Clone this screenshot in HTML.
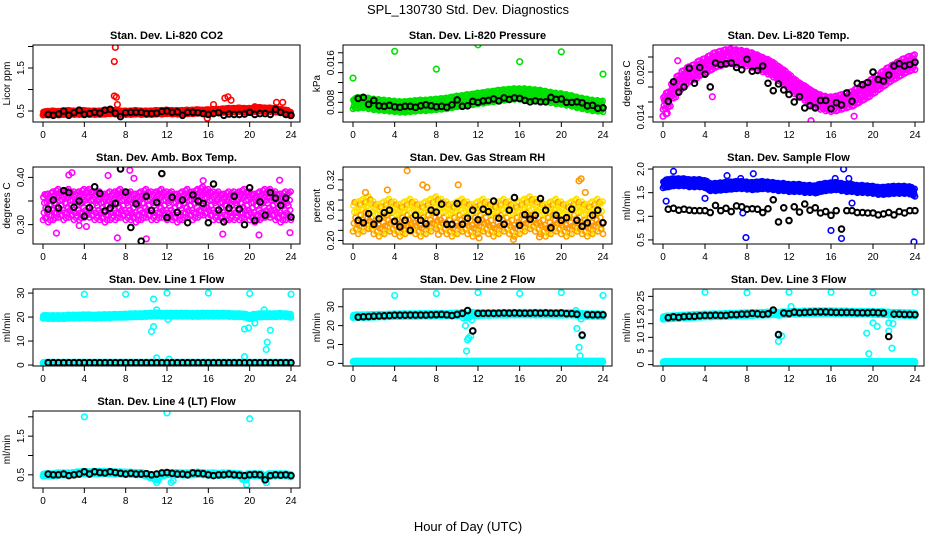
<!DOCTYPE html>
<html><head><meta charset="utf-8">
<style>
html,body{margin:0;padding:0;background:#fff;}
svg{display:block;font-family:"Liberation Sans",sans-serif;}
</style></head>
<body>
<svg id="chart" width="936" height="540" viewBox="0 0 936 540">
<text x="468" y="14" text-anchor="middle" font-size="13">SPL_130730  Std. Dev. Diagnostics</text>
<text x="468" y="531" text-anchor="middle" font-size="13">Hour of Day (UTC)</text>
</svg>
<script>
const hours=[0,0.5,1,1.5,2,2.5,3,3.5,4,4.5,5,5.5,6,6.5,7,7.5,8,8.5,9,9.5,10,10.5,11,11.5,12,12.5,13,13.5,14,14.5,15,15.5,16,16.5,17,17.5,18,18.5,19,19.5,20,20.5,21,21.5,22,22.5,23,23.5,24];
const blackHours=[0.5,1,1.5,2,2.5,3,3.5,4,4.5,5,5.5,6,6.5,7,7.5,8,8.5,9,9.5,10,10.5,11,11.5,12,12.5,13,13.5,14,14.5,15,15.5,16,16.5,17,17.5,18,18.5,19,19.5,20,20.5,21,21.5,22,22.5,23,23.5,24];
const xTicks=[0,4,8,12,16,20,24];

const co2Color=[0.45,0.45,0.46,0.45,0.46,0.47,0.46,0.46,0.47,0.46,0.46,0.46,0.47,0.48,0.47,0.46,0.46,0.46,0.47,0.46,0.46,0.46,0.47,0.47,0.48,0.47,0.47,0.47,0.48,0.48,0.49,0.48,0.49,0.50,0.50,0.51,0.52,0.52,0.53,0.52,0.52,0.53,0.54,0.53,0.53,0.52,0.50,0.48,0.43];
const co2Black=[0.42,0.40,0.43,0.50,0.40,0.46,0.52,0.42,0.44,0.47,0.45,0.52,0.54,0.45,0.37,0.46,0.47,0.47,0.47,0.44,0.44,0.45,0.49,0.50,0.47,0.48,0.40,0.47,0.47,0.46,0.44,0.42,0.44,0.46,0.40,0.43,0.42,0.42,0.43,0.47,0.42,0.44,0.44,0.42,0.54,0.47,0.42,0.40];
const co2OutX=[6.9,7.0,6.9,7.1,7.2,17.6,17.9,18.2,16.5,22.6,23.2,20.5,15.9];
const co2OutY=[1.65,1.98,0.85,0.82,0.65,0.80,0.83,0.75,0.65,0.70,0.70,0.60,0.33];

const presColor=[0.0078,0.0079,0.0080,0.0078,0.0076,0.0075,0.0074,0.0073,0.0072,0.0071,0.0071,0.0072,0.0073,0.0074,0.0074,0.0075,0.0076,0.0077,0.0078,0.0080,0.0082,0.0083,0.0085,0.0086,0.0088,0.0089,0.0091,0.0092,0.0094,0.0095,0.0096,0.0097,0.0097,0.0097,0.0096,0.0095,0.0094,0.0092,0.0090,0.0088,0.0087,0.0085,0.0083,0.0080,0.0078,0.0076,0.0074,0.0073,0.0072];
const presBlack=[0.0088,0.0090,0.0076,0.0084,0.0073,0.0072,0.0074,0.0071,0.0070,0.0072,0.0072,0.0070,0.0073,0.0075,0.0073,0.0071,0.0072,0.0070,0.0075,0.0085,0.0072,0.0073,0.0082,0.0080,0.0083,0.0084,0.0087,0.0083,0.0089,0.0086,0.0089,0.0088,0.0084,0.0081,0.0083,0.0081,0.0081,0.0090,0.0086,0.0087,0.0080,0.0080,0.0081,0.0079,0.0073,0.0074,0.0068,0.0069];
const presOutX=[0,4,8,12,16,20,24];
const presOutY=[0.0129,0.0183,0.0147,0.0196,0.0162,0.0182,0.0137];

const tempColor=[0.0160,0.0163,0.0175,0.0185,0.0192,0.0197,0.0200,0.0205,0.0208,0.0212,0.0216,0.0218,0.0220,0.0221,0.0220,0.0219,0.0218,0.0216,0.0213,0.0210,0.0207,0.0203,0.0198,0.0193,0.0187,0.0181,0.0176,0.0172,0.0167,0.0163,0.0160,0.0158,0.0157,0.0158,0.0160,0.0162,0.0164,0.0168,0.0172,0.0176,0.0181,0.0186,0.0191,0.0196,0.0200,0.0204,0.0208,0.0211,0.0213];
const tempBlack=[0.0161,0.0187,0.0173,0.0180,0.0205,0.0185,0.0206,0.0197,0.0180,0.0212,0.0210,0.0211,0.0212,0.0206,0.0203,0.0217,0.0201,0.0202,0.0208,0.0185,0.0175,0.0184,0.0176,0.0170,0.0160,0.0167,0.0152,0.0155,0.0152,0.0162,0.0162,0.0151,0.0159,0.0156,0.0172,0.0161,0.0185,0.0183,0.0186,0.0200,0.0190,0.0188,0.0196,0.0208,0.0211,0.0208,0.0210,0.0213];
const tempOutX=[0,0.3,0.4,1.4,18.2,14.1,4.7];
const tempOutY=[0.0141,0.0144,0.0145,0.0215,0.0141,0.0135,0.0167];

const boxColor=[0.34,0.335,0.34,0.345,0.34,0.345,0.34,0.34,0.345,0.345,0.34,0.34,0.335,0.34,0.34,0.345,0.34,0.34,0.335,0.34,0.345,0.34,0.34,0.345,0.34,0.34,0.335,0.34,0.345,0.34,0.345,0.35,0.345,0.34,0.34,0.335,0.34,0.34,0.34,0.345,0.34,0.335,0.34,0.345,0.345,0.34,0.335,0.34,0.34];
const boxBlack=[0.333,0.352,0.335,0.372,0.368,0.337,0.35,0.318,0.336,0.38,0.366,0.329,0.335,0.345,0.418,0.369,0.294,0.344,0.265,0.36,0.33,0.347,0.408,0.315,0.358,0.326,0.352,0.304,0.363,0.35,0.345,0.304,0.386,0.331,0.306,0.335,0.36,0.333,0.3,0.378,0.309,0.348,0.32,0.368,0.356,0.341,0.356,0.316];
const boxOutX=[2.5,2.8,8.4,8.8,1.3,7.2,10,6.3,22.9,15.5,23.9,17.4,20.9,3.5,4.2];
const boxOutY=[0.405,0.41,0.415,0.398,0.282,0.272,0.27,0.404,0.394,0.393,0.283,0.28,0.278,0.298,0.296];

const rhColor=[0.25,0.245,0.25,0.255,0.245,0.24,0.245,0.25,0.245,0.24,0.245,0.25,0.245,0.24,0.245,0.25,0.255,0.25,0.245,0.24,0.245,0.25,0.245,0.24,0.245,0.25,0.245,0.24,0.245,0.25,0.245,0.24,0.245,0.25,0.255,0.25,0.245,0.24,0.245,0.25,0.245,0.24,0.245,0.25,0.245,0.24,0.245,0.25,0.245];
const rhBlack=[0.24,0.235,0.253,0.232,0.243,0.255,0.26,0.238,0.227,0.24,0.22,0.25,0.24,0.233,0.26,0.256,0.272,0.232,0.232,0.273,0.232,0.244,0.26,0.241,0.262,0.257,0.278,0.244,0.232,0.26,0.285,0.23,0.251,0.242,0.25,0.283,0.26,0.225,0.25,0.24,0.245,0.262,0.24,0.228,0.235,0.25,0.26,0.235];
const rhOutX=[5.2,21.7,21.9,12.1,15.4,17.9,8.2,6.7,7.1,10.1,3.3,1.2,22.3];
const rhOutY=[0.338,0.318,0.322,0.205,0.202,0.207,0.212,0.31,0.305,0.31,0.3,0.295,0.295];

const flowColor=[1.68,1.7,1.72,1.72,1.72,1.7,1.7,1.7,1.68,1.62,1.62,1.63,1.64,1.65,1.66,1.66,1.65,1.64,1.65,1.66,1.65,1.64,1.62,1.62,1.6,1.6,1.6,1.58,1.58,1.57,1.6,1.62,1.63,1.64,1.62,1.6,1.6,1.58,1.58,1.57,1.56,1.54,1.54,1.55,1.56,1.56,1.56,1.55,1.5];
const flowBlack=[1.15,1.17,1.13,1.15,1.13,1.12,1.12,1.12,1.08,1.23,1.12,1.17,1.1,1.22,1.2,1.15,1.16,1.15,1.08,1.16,1.35,0.88,1.18,0.91,1.2,1.09,1.26,1.13,1.18,1.07,1.1,1.02,1.12,0.73,1.12,1.12,1.08,1.08,1.07,1.07,1.03,1.05,1.08,1.03,1.1,1.07,1.12,1.12];
const flowOutX=[1,0.3,4,7.9,7.6,7.4,8.6,16,17,17.2,17.7,18,23.9,16.4,6.1];
const flowOutY=[1.95,1.32,1.38,0.55,1.07,1.8,1.9,0.7,0.53,2.0,1.8,1.28,0.46,1.8,1.86];

const lowLine=[1,1,1,1,1,1,1,1,1,1,1,1,1,1,1,1,1,1,1,1,1,1,1,1,1,1,1,1,1,1,1,1,1,1,1,1,1,1,1,1,1,1,1,1,1,1,1,1,1];

const l1Color=[20.2,20.0,20.0,20.0,20.0,20.2,20.2,20.2,20.3,20.3,20.2,20.3,20.4,20.4,20.5,20.5,20.6,20.7,20.8,20.8,20.9,21.0,21.1,21.0,21.0,21.0,21.0,21.0,21.0,20.9,20.9,21.0,21.0,21.0,21.0,21.0,20.9,20.8,20.8,20.6,20.0,20.5,20.7,20.8,20.8,20.8,20.9,20.8,20.5];
const l1Black=[1,1,1,1,1,1,1,1,1,1,1,1,1,1,1,1,1,1,1,1,1,1,1,1,1,1,1,1,1,1,1,1,1,1,1,1,1,1,1,1,1,1,1,1,1,1,1,1];
const l1OutX=[4,8,12,16,20,24,10.7,11,10.5,10.7,11,12.2,19.5,19.5,19.9,20.5,21.4,21.6,21.7,22,12.1];
const l1OutY=[29.5,29.5,30,30,29.8,29.5,27.5,23,14,16,3,2.5,15,3.5,15.5,17.5,23,6.5,9.5,14.5,19];

const l2Color=[25.0,25.0,25.0,25.1,25.2,25.3,25.3,25.4,25.5,25.5,25.6,25.6,25.6,25.7,25.7,25.7,25.8,25.8,25.8,25.9,26.0,26.2,25.0,26.3,26.0,26.1,26.1,26.2,26.2,26.2,26.3,26.3,26.3,26.3,26.3,26.3,26.3,26.3,26.2,26.2,26.2,26.2,26.2,26.0,25.8,25.6,25.6,25.6,25.5];
const l2Black=[24.5,24.7,24.8,25,25.1,25.2,25.3,25.5,25.5,25.5,25.6,25.6,25.6,25.6,25.7,25.8,25.9,25.7,25.3,25.9,26.5,28.0,17.2,26.5,26.5,26.6,26.5,26.6,26.7,26.6,26.7,26.6,26.6,26.6,26.7,26.6,26.7,26.6,26.6,26.7,26.3,26.3,26.0,15.0,25.8,25.7,25.7,25.7];
const l2OutX=[4,8,12,16,20,24,10.8,11,11.1,11.3,10.9,11.4,21.5,21.7,21.8,22,21.9,21.4,10.6];
const l2OutY=[36,37,37.5,37,37.5,36,20,12.5,13.5,14.5,6.5,23,18.5,8.5,4,14.5,23.5,28,24];

const l3Color=[17.2,17.3,17.4,17.5,17.6,17.7,17.8,17.9,18.0,18.0,18.1,18.1,18.2,18.3,18.3,18.4,18.5,18.5,18.6,18.6,18.7,18.8,18.6,18.8,18.9,19.0,19.0,19.1,19.1,19.2,19.2,19.2,19.2,19.1,19.1,19.1,19.0,19.0,19.0,19.0,18.9,18.9,18.8,18.7,18.6,18.6,18.5,18.5,18.4];
const l3Black=[17.2,17.5,17.3,17.6,17.7,17.7,17.9,18.0,18.0,18.1,18.0,18.0,18.3,18.3,18.5,18.5,18.8,18.6,18.4,18.6,20.0,11.0,18.9,18.7,19.2,19.0,19.1,19.2,19.3,19.3,19.3,19.2,19.1,19.1,19.1,19.1,19.0,19.0,19.0,19.1,19.0,18.9,10.3,18.5,18.5,18.4,18.4,18.3];
const l3OutX=[4,8,12,16,20,24,11,11.3,12.2,19.4,19.6,20,20.4,21.5,21.9,21.5,21.8,20.8];
const l3OutY=[26.5,26.3,26.5,26.5,26.3,26.5,8.5,10.5,21.3,11.5,4,15.3,14,15.3,15,12.3,6,19.5];

const l4Color=[0.5,0.5,0.5,0.52,0.52,0.52,0.53,0.55,0.56,0.55,0.56,0.56,0.56,0.56,0.55,0.55,0.54,0.54,0.53,0.53,0.5,0.45,0.4,0.5,0.53,0.53,0.53,0.52,0.52,0.53,0.54,0.53,0.52,0.52,0.51,0.52,0.52,0.51,0.5,0.4,0.5,0.5,0.5,0.45,0.5,0.5,0.5,0.5,0.48];
const l4Black=[0.52,0.5,0.5,0.52,0.48,0.5,0.52,0.58,0.52,0.58,0.56,0.55,0.58,0.56,0.54,0.52,0.54,0.52,0.52,0.53,0.5,0.52,0.55,0.56,0.54,0.52,0.52,0.5,0.55,0.54,0.53,0.5,0.48,0.5,0.5,0.52,0.5,0.49,0.48,0.5,0.51,0.5,0.37,0.48,0.5,0.49,0.5,0.48];
const l4OutX=[4,12,20,12.4,12.6,11,19.7,21.6];
const l4OutY=[2.0,2.1,1.95,0.3,0.35,0.3,0.25,0.3];

const NS="http://www.w3.org/2000/svg";
const svg=document.getElementById('chart');
const offs=[0,0.9,-0.7,0.4,-0.3,1.0,-1.0,0.6,-0.5,0.2,0.8,-0.85];

function mk(tag,attrs,parent){const e=document.createElementNS(NS,tag);for(const k in attrs)e.setAttribute(k,attrs[k]);(parent||svg).appendChild(e);return e;}

const layout=[
 {name:'co2',title:'Stan. Dev. Li-820 CO2',ylab:'Licor ppm',col:0,row:0,ymin:0.244,ymax:2.035,ticks:[0.5,1,1.5,2],labels:['0.5','','1.5',''],color:'#ff0000',spread:0.045,colorVals:co2Color,black:co2Black,outX:co2OutX,outY:co2OutY},
 {name:'pressure',title:'Stan. Dev. Li-820 Pressure',ylab:'kPa',col:1,row:0,ymin:0.00404,ymax:0.01957,ticks:[0.006,0.008,0.010,0.012,0.014,0.016,0.018],labels:['','0.008','','','','0.016',''],color:'#00e000',spread:0.0011,colorVals:presColor,black:presBlack,outX:presOutX,outY:presOutY},
 {name:'temp',title:'Stan. Dev. Li-820 Temp.',ylab:'degrees C',col:2,row:0,ymin:0.01333,ymax:0.0236,ticks:[0.014,0.016,0.018,0.020,0.022],labels:['0.014','','','0.020',''],color:'#ff00ff',spread:0.0010,colorVals:tempColor,black:tempBlack,outX:tempOutX,outY:tempOutY},
 {name:'box-temp',title:'Stan. Dev. Amb. Box Temp.',ylab:'degrees C',col:0,row:1,ymin:0.259,ymax:0.422,ticks:[0.30,0.35,0.40],labels:['0.30','','0.40'],color:'#ff00ff',spread:0.030,colorVals:boxColor,black:boxBlack,outX:boxOutX,outY:boxOutY},
 {name:'rh',title:'Stan. Dev. Gas Stream RH',ylab:'percent',col:1,row:1,ymin:0.193,ymax:0.3454,ticks:[0.20,0.22,0.24,0.26,0.28,0.30,0.32],labels:['0.20','','','0.26','','','0.32'],color:'#ff9900',color2:'#ffe000',spread:0.032,colorVals:rhColor,black:rhBlack,outX:rhOutX,outY:rhOutY},
 {name:'sample-flow',title:'Stan. Dev. Sample Flow',ylab:'ml/min',col:2,row:1,ymin:0.414,ymax:2.043,ticks:[0.5,1.0,1.5,2.0],labels:['0.5','1.0','1.5','2.0'],color:'#0000ff',spread:0.08,colorVals:flowColor,black:flowBlack,outX:flowOutX,outY:flowOutY},
 {name:'line1-flow',title:'Stan. Dev. Line 1 Flow',ylab:'ml/min',col:0,row:2,ymin:-0.4,ymax:31.7,ticks:[0,10,20,30],labels:['0','10','20','30'],color:'#00ffff',spread:0.7,colorVals:l1Color,low:lowLine,black:l1Black,outX:l1OutX,outY:l1OutY},
 {name:'line2-flow',title:'Stan. Dev. Line 2 Flow',ylab:'ml/min',col:1,row:2,ymin:-1.4,ymax:39.4,ticks:[0,10,20,30],labels:['0','10','20','30'],color:'#00ffff',spread:0.8,colorVals:l2Color,low:lowLine,black:l2Black,outX:l2OutX,outY:l2OutY},
 {name:'line3-flow',title:'Stan. Dev. Line 3 Flow',ylab:'ml/min',col:2,row:2,ymin:-0.5,ymax:27.7,ticks:[0,5,10,15,20,25],labels:['0','5','10','15','20','25'],color:'#00ffff',spread:0.6,colorVals:l3Color,low:lowLine,black:l3Black,outX:l3OutX,outY:l3OutY},
 {name:'line4-flow',title:'Stan. Dev. Line 4 (LT) Flow',ylab:'ml/min',col:0,row:3,ymin:0.16,ymax:2.15,ticks:[0.5,1.0,1.5,2.0],labels:['0.5','','1.5',''],color:'#00ffff',spread:0.035,colorVals:l4Color,black:l4Black,outX:l4OutX,outY:l4OutY}
];
const colLeft=[33,343,653];
const colWidth=[267,269,271];
const rowTop=[45,167,289,411];
const H=77;

layout.forEach(p=>{
 const L=colLeft[p.col],W=colWidth[p.col],T=rowTop[p.row],B=T+H;
 const x0=L+10,x1=L+W-9;
 const xs=h=>x0+h/24*(x1-x0);
 const ys=v=>T+(p.ymax-v)/(p.ymax-p.ymin)*H;
 const g=mk('g',{});
 
 
 const defs=mk('clipPath',{id:'clip-'+p.name},g);
 mk('rect',{x:L,y:T,width:W,height:H},defs);
 const t=mk('text',{x:L+W/2,y:T-6,'text-anchor':'middle','font-size':11,'font-weight':'bold'},g);
 t.textContent=p.title;
 
 
 const pts=mk('g',{'clip-path':'url(#clip-'+p.name+')',fill:'none','stroke-width':1.6},g);
 
 
 function cloud(vals,spread,cls){
  vals.forEach((v,i)=>{
   for(let k=0;k<12;k++){
    const hx=hours[i]+(k/12-0.5)*0.5;
    if(hx<0||hx>24)continue;
    const c=mk('circle',{cx:xs(hx).toFixed(1),cy:ys(v+spread*offs[k]).toFixed(1),r:2.6,stroke:(p.color2&&k%2)?p.color2:p.color},pts);
    
    
   }
  });
 }
 cloud(p.colorVals,p.spread,p.name+'-sd-point');
 if(p.low) cloud(p.low,p.spread*0.35,p.name+'-low-point');
 p.outX.forEach((hx,i)=>{
  const c=mk('circle',{cx:xs(hx),cy:ys(p.outY[i]),r:2.8,stroke:p.color},pts);
  
  
 });
 p.black.forEach((v,i)=>{
  const c=mk('circle',{cx:xs(blackHours[i]),cy:ys(v),r:2.8,stroke:'#000','stroke-width':2},pts);
  
  
 });
 const box=mk('rect',{x:L,y:T,width:W,height:H,fill:'none',stroke:'#000','stroke-width':1},g);
 
 
 const xa=mk('g',{},g);
 
 
 mk('line',{x1:xs(0),x2:xs(24),y1:B,y2:B,stroke:'#000'},xa);
 xTicks.forEach(h=>{
  mk('line',{x1:xs(h),x2:xs(h),y1:B,y2:B+5,stroke:'#000'},xa);
  const tl=mk('text',{x:xs(h),y:B+16,'text-anchor':'middle','font-size':10},xa);
  tl.textContent=h;
  
  
 });
 const ya=mk('g',{},g);
 
 
 p.ticks.forEach((v,i)=>{
  const yy=ys(v);
  mk('line',{x1:L-5,x2:L,y1:yy,y2:yy,stroke:'#000'},ya);
  if(p.labels[i]){
   const tl=mk('text',{x:L-9,y:yy,'text-anchor':'middle','font-size':10,transform:'rotate(-90 '+(L-9)+' '+yy+')'},ya);
   tl.textContent=p.labels[i];
   
   
  }
 });
 const yl=mk('text',{x:L-23,y:T+H/2,'text-anchor':'middle','font-size':10,transform:'rotate(-90 '+(L-23)+' '+(T+H/2)+')'},g);
 yl.textContent=p.ylab;
 
 
});
</script>
</body></html>
